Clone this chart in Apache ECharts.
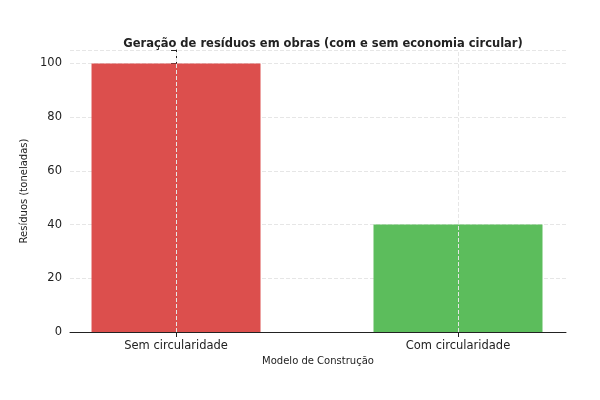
<!DOCTYPE html>
<html><head><meta charset="utf-8">
<script src="https://cdn.jsdelivr.net/npm/echarts@6/dist/echarts.min.js"></script>
</head><body style="margin:0">
<div id="c" style="width:600px;height:400px"></div>
<script>
const categories = ["Sem circularidade", "Com circularidade"];
const values = [100, 40];
const colors = ["#dc4f4d", "#5cbd5c"];
const yTicks = [0, 20, 40, 60, 80, 100];

const chart = echarts.init(document.getElementById('c'));
const font = 'DejaVu Sans';
chart.setOption({
  animation: false,
  textStyle: {fontFamily: font},
  title: {text: 'Geração de resíduos em obras (com e sem economia circular)', left: 318, top: 33, textAlign: 'center',
    textStyle: {fontSize: 11.5, fontWeight: 'bold', color: '#222', fontFamily: font}},
  grid: {left: 70, right: 34, top: 50, bottom: 68},
  xAxis: {type: 'value', min: -0.376, max: 1.383,
    name: 'Modelo de Construção', nameLocation: 'middle', nameGap: 24,
    nameTextStyle: {fontSize: 10, color: '#222'},
    axisLine: {show: true, lineStyle: {color: '#222'}},
    axisTick: {show: true, customValues: [0, 1], lineStyle: {color: '#222'}},
    axisLabel: {customValues: [0, 1], formatter: v => categories[Math.round(v)], fontSize: 11.5, color: '#222'},
    splitLine: {show: false}},
  yAxis: {type: 'value', min: 0, max: 105, interval: 20,
    name: 'Resíduos (toneladas)', nameLocation: 'middle', nameGap: 36, nameRotate: 90,
    nameTextStyle: {fontSize: 10, color: '#222'},
    axisLine: {show: true, lineStyle: {color: '#222'}},
    axisTick: {show: true, lineStyle: {color: '#222'}},
    axisLabel: {fontSize: 11.5, color: '#222', customValues: yTicks},
    splitLine: {show: true, lineStyle: {color: '#e6e6e6', type: 'dashed'}}},
  series: [{type: 'bar', barWidth: 169,
    data: values.map((v, i) => ({value: [i, v], itemStyle: {color: colors[i]}})),
    markLine: {silent: true, symbol: 'none', label: {show: false},
      lineStyle: {color: '#e6e6e6', type: 'dashed', width: 1},
      data: categories.map((c, i) => ({xAxis: i}))}
  }]
});
</script></body></html>
